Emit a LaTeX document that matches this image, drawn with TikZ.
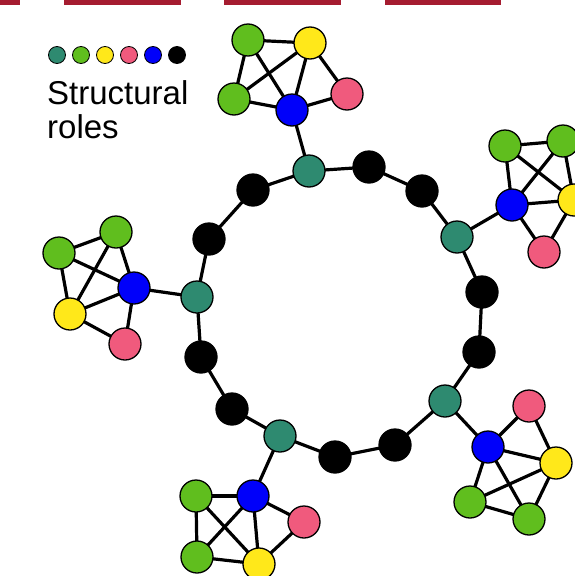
\documentclass[tikz,border=0pt]{standalone}
\usepackage{fontspec}
\setmainfont{Liberation Sans}
\usetikzlibrary{backgrounds}
\begin{document}
\begin{tikzpicture}[x=1pt,y=-1pt,
  every node/.style={inner sep=0pt},
  vtx/.style={circle,draw=black,line width=1.3pt,minimum size=32pt},
  teal/.style={vtx,fill=roleteal},
  grn/.style={vtx,fill=rolegreen},
  yel/.style={vtx,fill=roleyellow},
  pnk/.style={vtx,fill=rolepink},
  blu/.style={vtx,fill=roleblue},
  blk/.style={vtx,fill=black},
  dot/.style={circle,draw=black,line width=0.8pt,minimum size=17pt},
  link/.style={line width=3.2pt,black},
  bar/.style={fill=barred,draw=none},
  legendtext/.style={anchor=base west,font=\fontsize{33}{34}\selectfont}]
\definecolor{roleteal}{RGB}{46,138,112}
\definecolor{rolegreen}{RGB}{96,190,30}
\definecolor{roleyellow}{RGB}{255,232,26}
\definecolor{rolepink}{RGB}{240,90,125}
\definecolor{roleblue}{RGB}{0,0,250}
\definecolor{barred}{RGB}{165,28,48}
\useasboundingbox (0,0) rectangle (574,576);

% header bars
\fill[bar] (0,0) rectangle (20,4.5);
\fill[bar] (64,0) rectangle (181,4.5);
\fill[bar] (224,0) rectangle (341,4.5);
\fill[bar] (385,0) rectangle (501,4.5);

% legend
\node[dot,fill=roleteal]   (l1) at (57,55) {};
\node[dot,fill=rolegreen]  (l2) at (81,55) {};
\node[dot,fill=roleyellow] (l3) at (105,55) {};
\node[dot,fill=rolepink]   (l4) at (129,55) {};
\node[dot,fill=roleblue]   (l5) at (153,55) {};
\node[dot,fill=black]      (l6) at (177,55) {};
\node[legendtext] (t1) at (47,104) {Structural};
\node[legendtext] (t2) at (47,138) {roles};

% ring nodes
\node[teal] (r1)  at (309,171) {};
\node[blk]  (r2)  at (369,167) {};
\node[blk]  (r3)  at (422,191) {};
\node[teal] (r4)  at (457,237) {};
\node[blk]  (r5)  at (482,292) {};
\node[blk]  (r6)  at (479,352) {};
\node[teal] (r7)  at (445,401) {};
\node[blk]  (r8)  at (395,445) {};
\node[blk]  (r9)  at (335,457) {};
\node[teal] (r10) at (280,436) {};
\node[blk]  (r11) at (232,409) {};
\node[blk]  (r12) at (201,357) {};
\node[teal] (r13) at (197,297) {};
\node[blk]  (r14) at (209,239) {};
\node[blk]  (r15) at (253,190) {};

% top cluster
\node[grn] (ta) at (248,40) {};
\node[yel] (ty) at (310,43) {};
\node[grn] (tb) at (234,99) {};
\node[blu] (tu) at (292,110) {};
\node[pnk] (tp) at (347,94) {};

% right cluster
\node[grn] (ra) at (505,146) {};
\node[grn] (rb) at (563,141) {};
\node[yel] (ry) at (574,200) {};
\node[blu] (ru) at (512,205) {};
\node[pnk] (rp) at (544,252) {};

% left cluster
\node[grn] (la) at (59,253) {};
\node[grn] (lb) at (116,232) {};
\node[blu] (lu) at (134,288) {};
\node[yel] (ly) at (70,314) {};
\node[pnk] (lp) at (125,344) {};

% bottom-right cluster
\node[pnk] (bp) at (529,406) {};
\node[blu] (bu) at (488,447) {};
\node[yel] (by) at (556,463) {};
\node[grn] (ba) at (470,502) {};
\node[grn] (bb) at (529,519) {};

% bottom cluster
\node[grn] (da) at (196,496) {};
\node[blu] (du) at (253,496) {};
\node[pnk] (dp) at (304,522) {};
\node[grn] (db) at (197,557) {};
\node[yel] (dy) at (259,564) {};

% edges, drawn behind the nodes
\begin{scope}[on background layer]
  % ring
  \draw[link] (r1.center) -- (r2.center) -- (r3.center) -- (r4.center)
    -- (r5.center) -- (r6.center) -- (r7.center) -- (r8.center)
    -- (r9.center) -- (r10.center) -- (r11.center) -- (r12.center)
    -- (r13.center) -- (r14.center) -- (r15.center) -- (r1.center);
  % top cluster
  \foreach \a/\b in {ta/ty,ta/tb,ta/tu,ty/tb,ty/tu,ty/tp,tb/tu,tu/tp,tu/r1}
    \draw[link] (\a.center) -- (\b.center);
  % right cluster
  \foreach \a/\b in {ra/rb,ra/ru,ra/ry,rb/ru,rb/ry,ru/ry,ru/rp,rp/ry,ru/r4}
    \draw[link] (\a.center) -- (\b.center);
  % left cluster
  \foreach \a/\b in {la/lb,la/lu,la/ly,lb/lu,lb/ly,ly/lu,ly/lp,lu/lp,lu/r13}
    \draw[link] (\a.center) -- (\b.center);
  % bottom-right cluster
  \foreach \a/\b in {r7/bu,bu/bp,bp/by,bu/by,bu/ba,bu/bb,ba/by,ba/bb,bb/by}
    \draw[link] (\a.center) -- (\b.center);
  % bottom cluster
  \foreach \a/\b in {r10/du,da/du,da/db,da/dy,du/db,du/dy,du/dp,dp/dy,db/dy}
    \draw[link] (\a.center) -- (\b.center);
\end{scope}
\end{tikzpicture}
\end{document}
